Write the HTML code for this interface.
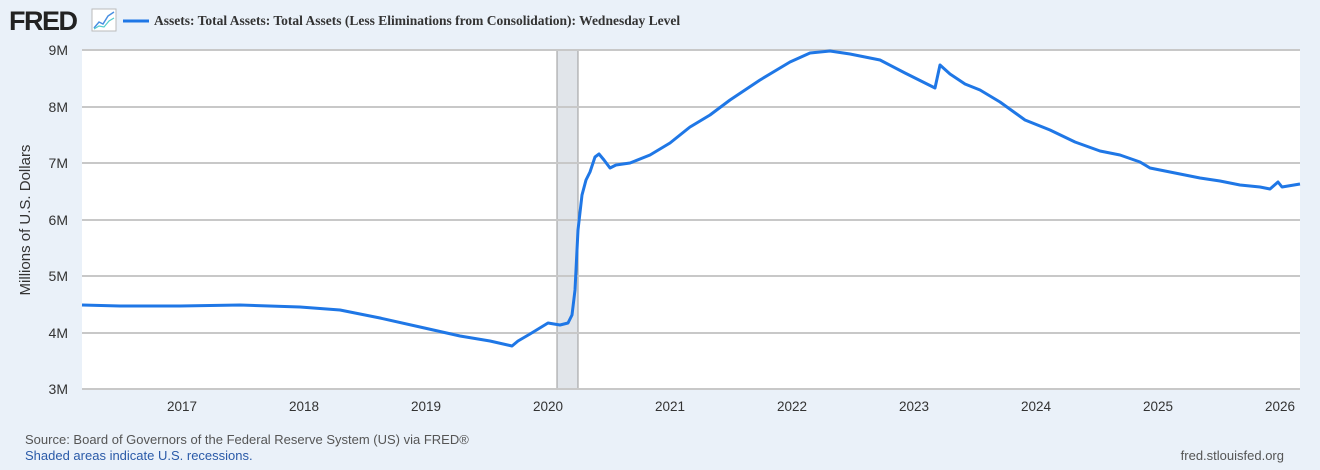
<!DOCTYPE html>
<html><head><meta charset="utf-8"><style>
body{margin:0;width:1320px;height:465px;background:#eaf1f9;font-family:"Liberation Sans",sans-serif;overflow:hidden}
</style></head><body>
<svg width="1320" height="465" xmlns="http://www.w3.org/2000/svg" font-family="Liberation Sans, sans-serif">
<rect x="0" y="0" width="1320" height="465" fill="#eaf1f9"/>
<text x="9" y="30" font-size="27" font-weight="bold" fill="#222" letter-spacing="-1.5">FRED</text>
<rect x="92" y="9" width="24" height="22" fill="#fff" stroke="#bbb"/>
<polyline points="94,28 99,22 103,24 108,16 114,12" fill="none" stroke="#4a90e2" stroke-width="1.5"/>
<polyline points="94,29 99,26 104,27 109,21 114,18" fill="none" stroke="#5cc" stroke-width="1.2"/>
<line x1="123" y1="21" x2="149" y2="21" stroke="#1f77e6" stroke-width="3"/>
<text x="154" y="25" font-size="13.5" font-family="Liberation Serif, serif" font-weight="bold" fill="#333">Assets: Total Assets: Total Assets (Less Eliminations from Consolidation): Wednesday Level</text>
<rect x="82" y="50" width="1218" height="339" fill="#fff"/>
<rect x="557" y="50" width="21" height="339" fill="#e1e5ea" stroke="#999" stroke-width="1"/>
<g stroke="#c8c8c8" stroke-width="2">
<line x1="82" y1="50" x2="1300" y2="50"/><line x1="82" y1="107" x2="1300" y2="107"/><line x1="82" y1="163" x2="1300" y2="163"/><line x1="82" y1="220" x2="1300" y2="220"/><line x1="82" y1="276" x2="1300" y2="276"/><line x1="82" y1="333" x2="1300" y2="333"/><line x1="82" y1="389" x2="1300" y2="389"/>
</g>
<g font-size="14" fill="#333" text-anchor="end">
<text x="68" y="55">9M</text><text x="68" y="112">8M</text><text x="68" y="168">7M</text><text x="68" y="225">6M</text><text x="68" y="281">5M</text><text x="68" y="338">4M</text><text x="68" y="394">3M</text>
</g>
<g font-size="13.5" fill="#333" text-anchor="middle">
<text x="182" y="411">2017</text><text x="304" y="411">2018</text><text x="426" y="411">2019</text><text x="548" y="411">2020</text><text x="670" y="411">2021</text><text x="792" y="411">2022</text><text x="914" y="411">2023</text><text x="1036" y="411">2024</text><text x="1158" y="411">2025</text><text x="1280" y="411">2026</text>
</g>
<text transform="translate(30,220) rotate(-90)" font-size="15" fill="#333" text-anchor="middle">Millions of U.S. Dollars</text>
<polyline fill="none" stroke="#1f77e6" stroke-width="3" stroke-linejoin="round" points="82,305 120,306 180,306 240,305 300,307 340,310 380,318 420,327 460,336 490,341 512,346 518,341 530,334 548,323 560,325 568,323 572,315 575,290 578,230 582,195 586,180 590,172 595,157 599,154 604,160 610,168 616,165 630,163 650,155 670,143 690,127 710,115 730,100 760,80 790,62 810,53 830,51 850,54 880,60 905,73 935,88 940,65 950,74 965,84 980,90 1000,102 1025,120 1050,130 1075,142 1100,151 1120,155 1140,162 1150,168 1180,174 1200,178 1220,181 1240,185 1260,187 1270,189 1278,182 1282,187 1300,184"/>
<text x="25" y="444" font-size="13" fill="#555">Source: Board of Governors of the Federal Reserve System (US) via FRED®</text>
<text x="25" y="460" font-size="13" fill="#2a5aa8">Shaded areas indicate U.S. recessions.</text>
<text x="1284" y="460" font-size="13" fill="#555" text-anchor="end">fred.stlouisfed.org</text>
</svg>
</body></html>
